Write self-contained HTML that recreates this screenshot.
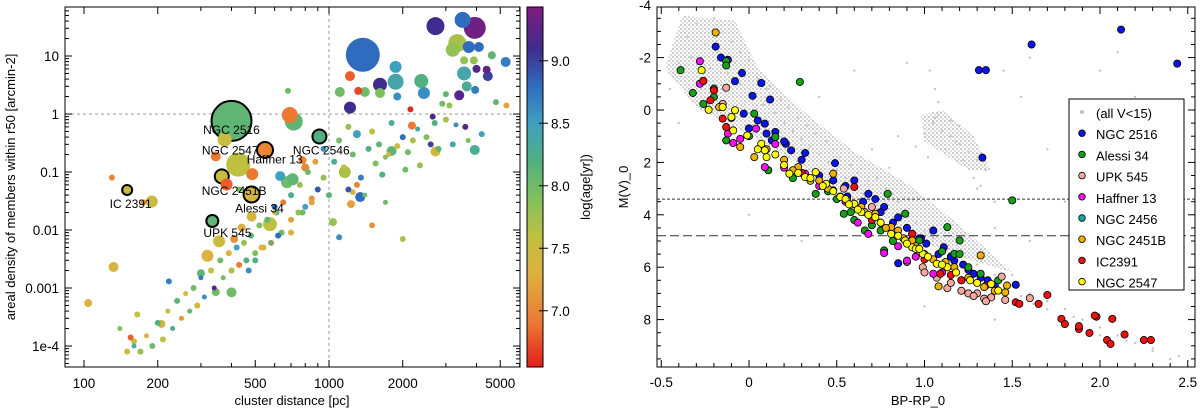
<!DOCTYPE html>
<html><head><meta charset="utf-8">
<style>
html,body{margin:0;padding:0;background:#fff;}
svg{display:block;font-family:"Liberation Sans",sans-serif;}
</style></head>
<body>
<svg id="fig" width="1200" height="410" viewBox="0 0 1200 410" xmlns="http://www.w3.org/2000/svg">
<defs>
<pattern id="stip" width="4" height="4" patternUnits="userSpaceOnUse"><circle cx="1" cy="1" r="1" fill="#bdbdbd"/><circle cx="3" cy="3" r="0.9" fill="#c8c8c8"/></pattern>
</defs>
<g id="left"></g>
<g id="cbar"></g>
<g id="right"></g>
</svg>
<script>
// ---------- LEFT CHART DATA ----------
const distances = [1374,2720,3510,3935,3340,3200,3720,4090,5260,4620,3560,3900,1870,3560,4000,4400,4450,1615,1870,2380,2440,1218,1316,1400,1107,1615,1900,1218,3400,3950,3650,692,718,400,375,548,914,365,150,483,334,426,345,486,382,189,632,674,710,780,800,319,356,574,483,440,410,132,104,207,400,345,300,222,2720,3935,1800,1160,1340,1230,1038,2150,2180,2650,
 1100,1200,1300,1450,1500,1600,1700,1800,1900,2000,2100,2200,2300,2500,2700,2900,3100,3300,3600,4200,4800,5300,1050,1150,1250,1350,1550,1650,1750,2050,2350,2600,2800,3000,3200,3700,950,880,820,760,700,650,600,560,520,480,450,420,390,360,330,300,280,260,240,220,200,180,160,150,140,130,900,850,800,750,700,640,580,540,500,470,430,1250,1400,1500,1700,2000,1100,1200,1300,950,1000,850,780,700,620,580,530,500,460,430,400,370,340,310,290,270,250,230,210,190,170,160,155,165,175,600,610,680,3000,3500,4300,2900,2200,2400,1950,1350,1450];
const densities = [10.5,32.7,42,30.6,16.7,12.8,14.3,14.3,7.9,10.3,8.4,8.4,6.5,5.0,6.0,5.8,4.5,3.2,3.6,3.7,2.3,4.5,2.5,2.4,2.4,2.3,2.0,1.29,2.1,2.6,3.0,0.96,0.74,0.76,0.36,0.24,0.41,0.084,0.049,0.041,0.0143,0.134,0.186,0.092,0.061,0.031,0.085,0.067,0.075,0.16,0.12,0.0036,0.0064,0.0126,0.017,0.011,0.007,0.0023,0.00055,0.00024,0.00084,0.00085,0.0018,0.0013,0.226,0.24,0.23,0.1,0.037,0.028,0.0137,1.2,0.63,0.9,
 0.35,0.6,0.45,0.25,0.5,0.3,0.18,0.7,0.28,0.4,0.22,0.35,0.55,0.4,0.7,1.5,1.4,0.65,0.6,0.45,1.6,1.4,0.15,0.12,0.2,0.08,0.14,0.09,0.2,0.11,0.13,0.3,0.25,0.8,0.3,0.35,0.25,0.15,0.1,0.06,0.04,0.03,0.02,0.015,0.012,0.008,0.006,0.005,0.004,0.003,0.002,0.0015,0.001,0.0008,0.0006,0.0004,0.00025,0.00015,0.0001,0.00008,0.0002,0.08,0.05,0.035,0.025,0.02,0.015,0.009,0.006,0.005,0.003,0.002,0.05,0.045,0.04,0.012,0.03,0.007,0.0075,0.05,0.06,0.08,0.04,0.03,0.02,0.009,0.008,0.006,0.005,0.004,0.003,0.0025,0.002,0.0015,0.001,0.0007,0.0005,0.0004,0.0003,0.0002,0.00013,0.0001,0.00008,0.00012,0.00014,0.00035,0.03,0.025,0.02,2.5,2.2,2.8,0.9,0.55,0.45,0.17,0.16,0.055];
const ages = [8.8,9.1,8.8,9.35,7.7,7.8,8.8,8.8,8.7,8.1,7.8,7.8,8.5,8.4,9.2,9.3,9.0,9.1,8.4,8.2,8.6,6.8,6.7,8.0,8.0,7.9,8.6,9.1,9.2,8.7,8.3,6.9,8.1,8.1,7.5,7.0,8.2,7.5,7.5,7.4,8.1,7.6,6.9,6.9,6.8,7.5,8.5,8.0,8.1,7.0,7.0,7.3,7.5,7.6,7.4,7.3,7.1,7.4,7.3,7.4,8.0,8.0,8.1,8.7,7.4,8.3,8.1,7.7,8.8,7.2,7.8,6.6,6.9,9.2,
 8.0,7.8,8.5,8.2,7.6,8.1,7.9,8.3,7.5,8.8,8.0,7.7,8.4,7.9,8.2,8.0,7.8,8.6,9.2,8.5,8.1,7.2,8.3,7.6,8.0,8.7,7.9,8.2,7.4,8.0,7.8,9.0,8.1,7.7,8.4,7.9,8.6,7.2,8.0,7.8,8.3,6.9,7.6,8.1,7.9,8.2,7.8,8.5,7.3,8.0,7.6,8.7,8.0,7.4,8.1,7.5,8.2,7.3,8.3,7.5,7.9,7.0,8.9,7.1,8.5,7.8,7.2,8.0,6.9,7.6,8.2,8.6,7.9,7.4,8.0,7.1,8.0,7.7,8.6,8.9,7.0,7.8,8.1,7.2,8.0,7.4,8.8,8.1,7.3,7.9,8.2,6.9,7.7,8.0,9.2,8.6,7.4,8.1,7.1,8.3,7.6,8.0,7.8,7.5,6.8,7.6,7.0,8.8,8.2,8.0,8.1,7.2,8.9,8.0,7.6,8.2,8.3];
const sizes = [17,9,8,11,9,7,6,5,5,4,4,4,6,7,4,4,5,7,8,7,6,5,4,5,5,5,4,6,5,4,5,8,9,20,7,8,7,7,5,8,6,12,5,6,6,6,5,6,6,4,4,6,6,7,5,4,4,5,4,4,5,4,4,3,5,5,5,6,5,4,4,3,4,3,
 3,3,4,3,3,3,2.5,3,3,3,3,3,2.5,3,3,3,3,2.5,3,3,3,3,3,3,3,3,3,3,2.5,3,3,3,3,3,3,2.5,3,3,3,3,3,3,2.5,3,3,3,3,3,3,3,3,2.5,3,2.5,3,2.5,3,2.5,2.5,3,2.5,3,3,3,3,3,3,3,3,3,3,3,3,3,2.5,3,2.5,3,3,3,3,3,3,3,3,3,3,2.5,3,3,3,3,3,2.5,2.5,2.5,3,2.5,2.5,2.5,3,3,3,3,3,3,3,3,3,3,3];
const namedIdx = [33,35,36,38,39,37,40];
const clusterLabels = ["NGC 2516","NGC 2547","Haffner 13","NGC 2546","NGC 2451B","IC 2391","Alessi 34","UPK 545"];
const labelDist = [400,395,600,930,410,155,520,385];
const labelDens = [0.45,0.2,0.14,0.2,0.04,0.024,0.02,0.0075];
const xTicksL = [100,200,500,1000,2000,5000];
const yTicksL = [10,1,0.1,0.01,0.001,0.0001];
const yTickLabelsL = ["10","1","0.1","0.01","0.001","1e-4"];
const cbTicks = [7.0,7.5,8.0,8.5,9.0];

// ---------- RIGHT CHART DATA ----------
const grayColor = [-0.4,-0.35,-0.3,-0.25,-0.2,-0.15,-0.1,-0.05,0,-0.28,-0.22,-0.12,-0.05,0.02,0.08,0.15,0.2,0.25,0.3,0.35,0.4,0.45,0.5,0.55,0.6,0.65,0.7,0.1,0.18,0.28,0.38,0.48,0.58,0.68,0.78,0.85,0.9,0.95,1.0,1.05,1.1,1.2,1.3,1.4,1.5,1.6,1.7,1.8,1.9,2.0,2.1,2.2,2.3,1.05,1.1,1.15,1.2,1.25,1.3,1.35,1.08,1.0,1.12,1.2,1.45,1.55,1.6,2.1,2.2,2.0,1.8,1.3,1.6,0.9,1.4,2.2,0.4,0.6,1.7,-0.4,-0.45,0.0,0.3,1.0,1.4,2.4,0.7,0.8,0.85,1.4,1.9,-0.33,-0.18,-0.08,0.05,0.12,0.22,0.33,0.44,0.52,0.62,0.73,0.82,1.02,1.18,1.28,1.15,1.22,1.32,0.95,1.06,1.03,1.06,1.08,1.5,1.55,1.62,1.7,1.85,2.0,2.15,2.3,2.45];
const grayMag = [-1.8,-2.8,-3.3,-2.5,-3.5,-3.0,-2.6,-2.2,-1.9,-1.2,-1.6,-1.4,-1.0,-0.6,-0.2,0.1,0.5,0.8,1.1,1.4,1.7,2.0,2.3,2.6,2.9,3.2,3.4,-0.8,-0.4,0.3,0.9,1.5,2.1,2.7,3.0,3.5,3.9,4.3,4.6,4.9,5.1,5.5,5.9,6.3,6.7,7.0,7.3,7.6,8.0,8.3,8.6,8.9,9.2,0.5,0.8,1.0,1.3,1.6,1.9,2.3,0.2,0.9,1.5,0.6,-1.5,-0.5,-2.0,-2.2,-0.5,-1.5,3.5,3.0,5.0,-1.8,3.5,4.0,-0.5,-1.5,1.5,0.5,-0.8,4.0,5.0,7.5,8.0,9.5,1.5,2.2,1.0,4.5,6.5,-2.0,-2.2,-1.8,-1.2,-0.9,-0.1,0.6,1.2,1.8,2.4,2.6,3.2,1.8,1.2,2.6,0.4,1.9,2.9,1.4,0.3,-1.5,-0.8,-0.3,6.3,7.1,7.4,7.6,7.9,8.6,8.8,9.1,9.4];
const ngc2516Color = [2.12,1.61,2.44,1.31,1.35,1.33,1.52,-0.19,-0.16,-0.12,-0.04,0.07,-0.08,0.02,0.12,-0.03,0.05,0.09,0.15,0.21,0.24,0.32,0.49,0.6,0.68,0.77,0.85,0.93,1.01,1.11,1.17,1.28,1.36,0.85,0.13,0.48,1.05,0.0,0.1,0.56,0.72,0.98,1.22,0.3,0.4,0.55,0.65,0.75,0.82,0.9,0.97,1.08,1.15,1.25,1.32,1.4,0.2,-0.1];
const ngc2516Mag = [-3.07,-2.5,-1.77,-1.52,-1.52,1.82,6.67,-2.42,-2.0,-1.92,-1.41,-1.03,-1.1,-0.54,-0.4,0.14,0.4,0.52,0.84,1.29,1.54,1.64,2.03,2.69,3.2,3.7,4.1,4.73,5.1,5.24,5.75,6.25,6.5,5.85,1.16,2.69,4.6,0.7,0.9,3.3,3.4,4.9,5.9,1.9,2.5,2.9,3.5,3.9,4.3,4.5,4.9,5.5,5.6,6.1,6.4,6.7,1.2,0.3];
const alessiColor = [-0.39,-0.32,-0.26,-0.2,-0.13,0.29,-0.13,0.03,0.15,0.38,0.54,0.66,0.79,0.77,1.13,1.2,1.5,1.17,1.32,1.42,0.97,0.11,0.23,0.6,0.89,-0.2,-0.13,0.0,0.25,0.45,0.5,0.58,0.7,0.75,0.82,0.92,1.1,1.2,1.25];
const alessiMag = [-1.52,-0.65,-0.23,-0.82,-1.87,-1.07,1.16,0.14,1.03,3.2,3.96,4.6,3.2,5.36,4.47,4.98,3.45,5.49,6.25,6.5,4.98,2.3,2.43,4.2,3.96,-0.5,-1.7,1.0,2.6,3.1,3.4,3.9,4.4,4.6,5.0,5.0,5.4,5.5,6.0];
const upkColor = [-0.13,-0.15,1.07,1.13,1.21,1.3,1.38,1.44,1.46,1.6,0.99,0.54,0.7,1.21,1.25,1.34,0.9,1.0,1.15,1.28,1.35];
const upkMag = [-0.85,-0.23,6.4,6.8,6.9,7.0,7.15,6.36,7.25,7.18,6.0,3.0,3.7,6.5,7.0,7.2,5.8,6.2,6.6,7.1,7.3];
const haffnerColor = [-0.28,-0.28,-0.12,-0.09,0.04,0.09,0.68,0.77,0.9,1.05,1.13,0.48,0.32,-0.05,0.15,0.2,0.4,0.55,0.62,0.85,0.95,1.1];
const haffnerMag = [-1.86,-1.0,0.9,1.26,0.71,2.18,4.73,5.46,5.75,6.25,6.0,3.07,2.43,1.1,1.3,2.2,2.9,3.5,4.3,5.2,5.6,6.2];
const ngc2451bColor = [-0.19,-0.17,-0.05,0.03,0.28,0.4,0.56,0.64,0.81,0.93,1.08,1.32,1.46,1.47,1.17,1.34,0.48,0.72,0.1,0.2,0.6,0.88,1.0,0.25,0.35,0.45,0.52,0.66,0.78,0.85,0.95,1.05,1.12,1.25,1.4];
const ngc2451bMag = [-2.96,-0.11,1.41,1.8,2.18,2.69,3.45,3.7,4.47,4.98,6.73,5.55,6.96,6.7,6.0,6.76,2.43,3.96,1.5,1.9,3.6,4.9,5.5,2.3,2.7,3.0,3.3,3.9,4.5,4.6,5.2,5.7,5.8,6.4,6.9];
const ic2391Color = [-0.26,-0.2,-0.22,-0.15,-0.13,1.52,1.54,1.65,1.7,1.78,1.8,1.88,1.94,1.98,2.07,2.04,2.06,2.14,2.25,2.29,0.93,1.09,1.21,0.6,1.88,1.97,0.3,0.7,1.0,1.15,1.35];
const ic2391Mag = [-1.11,-0.75,-0.37,0.33,0.65,7.34,7.4,7.4,7.06,7.97,8.17,8.36,8.51,7.89,7.97,8.78,8.93,8.57,8.78,8.78,4.73,6.25,6.5,2.94,8.25,7.85,2.4,4.2,5.7,6.3,6.7];
const ngc2547Color = [-0.27,-0.23,-0.15,-0.08,-0.1,-0.09,-0.01,0.07,0.09,0.1,0.23,0.32,0.38,0.44,0.52,0.6,0.64,0.72,0.81,0.89,0.93,0.99,1.07,1.13,1.26,1.38,1.42,0.55,0.75,0.95,0.05,0.15,0.2,0.28,0.35,0.42,0.48,0.57,0.62,0.68,0.75,0.85,0.9,0.97,1.02,1.1,1.18,1.3];
const ngc2547Mag = [-1.52,-0.01,-0.11,0.01,0.27,0.78,0.97,1.29,1.54,1.8,2.43,2.56,2.37,2.82,3.32,3.58,3.9,4.09,4.73,4.98,5.24,5.49,5.87,6.0,6.5,6.64,6.89,3.4,4.3,5.3,1.5,1.7,2.1,2.4,2.6,2.9,3.1,3.6,3.8,4.0,4.3,4.8,5.1,5.3,5.6,5.9,6.2,6.6];
const xTicksR = [-0.5,0,0.5,1.0,1.5,2.0,2.5];
const xTickLabelsR = ["-0.5","0","0.5","1.0","1.5","2.0","2.5"];
const yTicksR = [-4,-2,0,2,4,6,8];
const yTickLabelsR = ["-4","-2","0","2","4","6","8"];
const hLines = [3.4,4.8];
const legendLabels = ["(all V<15)","NGC 2516","Alessi 34","UPK 545","Haffner 13","NGC 2456","NGC 2451B","IC2391","NGC 2547"];
const legendColors = ["#c0c0c0","#0a14e6","#18a018","#f5a8a0","#f010f0","#10a8a8","#f0b000","#f01010","#ffff00"];

const NS = "http://www.w3.org/2000/svg";
function mk(parent, tag, attrs, text){
  const e = document.createElementNS(NS, tag);
  for (const k in attrs) e.setAttribute(k, attrs[k]);
  if (text !== undefined) e.textContent = text;
  parent.appendChild(e);
  return e;
}
// ---------- LEFT ----------
const L = document.getElementById('left');
const LX0 = 65, LX1 = 520, LY0 = 7, LY1 = 367;
function lx(d){ return 84 + (Math.log10(d) - 2) * 245; }
function ly(r){ return 114 - Math.log10(r) * 58; }
const cmStops = [[6.55,[226,30,30]],[6.9,[236,120,50]],[7.3,[222,176,64]],[7.6,[190,192,64]],[7.9,[128,192,92]],[8.2,[80,176,128]],[8.5,[64,160,192]],[8.8,[48,108,190]],[9.1,[64,44,140]],[9.43,[128,28,128]]];
function cmap(a){
  if (a <= cmStops[0][0]) return 'rgb(' + cmStops[0][1].join(',') + ')';
  for (let i = 1; i < cmStops.length; i++){
    if (a <= cmStops[i][0]){
      const t = (a - cmStops[i-1][0]) / (cmStops[i][0] - cmStops[i-1][0]);
      const c = cmStops[i-1][1].map((v, j) => Math.round(v + t * (cmStops[i][1][j] - v)));
      return 'rgb(' + c.join(',') + ')';
    }
  }
  return 'rgb(' + cmStops[cmStops.length-1][1].join(',') + ')';
}
mk(L,'rect',{x:LX0,y:LY0,width:LX1-LX0,height:LY1-LY0,fill:'#fff'});
const dl1 = mk(L,'line',{x1:lx(1000),x2:lx(1000),y1:LY0,y2:LY1,stroke:'#999','stroke-dasharray':'3,3','stroke-width':1});


const dl2 = mk(L,'line',{x1:LX0,x2:LX1,y1:ly(1),y2:ly(1),stroke:'#999','stroke-dasharray':'3,3','stroke-width':1});


const order = distances.map((d,i)=>i).sort((a,b)=>sizes[b]-sizes[a]);
order.forEach(i => {
  const named = namedIdx.indexOf(i) >= 0;
  const c = mk(L,'circle',{cx:lx(distances[i]),cy:ly(densities[i]),r:sizes[i],fill:cmap(ages[i]),stroke:named?'#000':'none','stroke-width':named?2:0});
  
  
});
clusterLabels.forEach((t,i) => {
  const e = mk(L,'text',{x:lx(labelDist[i]),y:ly(labelDens[i]),'font-size':12,'text-anchor':'middle',fill:'#000'},t);
  
  
});
mk(L,'rect',{x:LX0,y:LY0,width:LX1-LX0,height:LY1-LY0,fill:'none',stroke:'#000','stroke-width':1});
for (let dec = 100; dec <= 1000; dec *= 10){
  for (let m = 1; m < 10; m++){
    const v = dec*m; const x = lx(v);
    if (x < LX0 || x > LX1) continue;
    const major = xTicksL.indexOf(v) >= 0;
    const len = major ? 7 : 4;
    mk(L,'line',{x1:x,x2:x,y1:LY1,y2:LY1-len,stroke:'#000'});
    mk(L,'line',{x1:x,x2:x,y1:LY0,y2:LY0+len,stroke:'#000'});
  }
}
for (let e = -5; e <= 1; e++){
  for (let m = 1; m < 10; m++){
    const v = Math.pow(10,e)*m; const y = ly(v);
    if (y < LY0 || y > LY1) continue;
    const len = m === 1 ? 7 : 4;
    mk(L,'line',{x1:LX0,x2:LX0+len,y1:y,y2:y,stroke:'#000'});
    mk(L,'line',{x1:LX1,x2:LX1-len,y1:y,y2:y,stroke:'#000'});
  }
}
xTicksL.forEach(v => {
  const e = mk(L,'text',{x:lx(v),y:388,'font-size':13.5,'text-anchor':'middle'},String(v));
  
  
});
yTicksL.forEach((v,i) => {
  const e = mk(L,'text',{x:59,y:ly(v)+5,'font-size':13.5,'text-anchor':'end'},yTickLabelsL[i]);
  
  
});
const xt = mk(L,'text',{x:292,y:405,'font-size':13,'text-anchor':'middle'},'cluster distance [pc]');


const yt = mk(L,'text',{x:0,y:0,'font-size':13,'text-anchor':'middle',transform:'translate(15,187) rotate(-90)'},'areal density of members within r50 [arcmin-2]');



// ---------- COLORBAR ----------
const C = document.getElementById('cbar');
const CX = 527, CW = 16, CY0 = 7, CY1 = 367, AMIN = 6.55, AMAX = 9.43;
function cy(a){ return CY1 - (a - AMIN) / (AMAX - AMIN) * (CY1 - CY0); }
for (let y = CY0; y < CY1; y += 2){
  const a = AMIN + (CY1 - y - 1) / (CY1 - CY0) * (AMAX - AMIN);
  mk(C,'rect',{x:CX,y:y,width:CW,height:2.2,fill:cmap(a)});
}
mk(C,'rect',{x:CX,y:CY0,width:CW,height:CY1-CY0,fill:'none',stroke:'#000'});
cbTicks.forEach(v => {
  mk(C,'line',{x1:CX+CW,x2:CX+CW+5,y1:cy(v),y2:cy(v),stroke:'#000'});
  mk(C,'line',{x1:CX+CW-4,x2:CX+CW,y1:cy(v),y2:cy(v),stroke:'#000'});
  const e = mk(C,'text',{x:CX+CW+8,y:cy(v)+5,'font-size':13.5},v.toFixed(1));
  
  
});
const ct = mk(C,'text',{x:0,y:0,'font-size':13,'text-anchor':'middle',transform:'translate(590,187) rotate(-90)'},'log(age[yr])');



// ---------- RIGHT ----------
const R = document.getElementById('right');
const RX0 = 657, RX1 = 1195, RY0 = 7, RY1 = 367;
function rx(c){ return 749 + c * 175.5; }
function ry(m){ return 110 + m * 26.2; }
mk(R,'rect',{x:RX0,y:RY0,width:RX1-RX0,height:RY1-RY0,fill:'#fff'});
function poly(pts){ return pts.map((p,i)=>(i?'L':'M')+rx(p[0]).toFixed(1)+','+ry(p[1]).toFixed(1)).join(' ')+'Z'; }
const band = mk(R,'path',{d:poly([[-0.38,-3.6],[-0.08,-3.4],[0.05,-1.6],[0.3,0.0],[0.6,1.6],[0.9,2.8],[1.2,4.4],[1.5,6.2],[1.1,5.4],[0.6,3.4],[0.1,1.3],[-0.3,-0.1],[-0.48,-1.6]]),fill:'url(#stip)'});


const clump = mk(R,'path',{d:poly([[0.98,0.2],[1.1,0.0],[1.28,1.0],[1.38,2.3],[1.25,2.3],[1.0,1.2]]),fill:'url(#stip)'});


grayColor.forEach((c,i) => {
  const p = mk(R,'circle',{cx:rx(c),cy:ry(grayMag[i]),r:1.2,fill:'#c4c4c4'});
  
  
});
hLines.forEach((m,i) => {
  const l = mk(R,'line',{x1:RX0,x2:RX1,y1:ry(m),y2:ry(m),stroke:'#333','stroke-dasharray':i?'9,4':'3,2'});
  
  
});
const series = [[ngc2516Color,ngc2516Mag,1,'ngc2516-star'],[alessiColor,alessiMag,2,'alessi34-star'],[upkColor,upkMag,3,'upk545-star'],[haffnerColor,haffnerMag,4,'haffner13-star'],[ic2391Color,ic2391Mag,7,'ic2391-star'],[ngc2451bColor,ngc2451bMag,6,'ngc2451b-star'],[ngc2547Color,ngc2547Mag,8,'ngc2547-star']];
series.forEach(s => {
  s[0].forEach((c,i) => {
    const p = mk(R,'circle',{cx:rx(c),cy:ry(s[1][i]),r:3.6,fill:legendColors[s[2]],stroke:'#000','stroke-width':0.8});
    
    
  });
});
mk(R,'rect',{x:RX0,y:RY0,width:RX1-RX0,height:RY1-RY0,fill:'none',stroke:'#000'});
for (let k = -5; k <= 26; k++){
  const v = k/10; const x = rx(v); if (x < RX0 || x > RX1) continue;
  const len = (k % 5 === 0) ? 7 : 4;
  mk(R,'line',{x1:x,x2:x,y1:RY1,y2:RY1-len,stroke:'#000'});
  mk(R,'line',{x1:x,x2:x,y1:RY0,y2:RY0+len,stroke:'#000'});
}
for (let m = -4; m <= 9.5; m += 0.5){
  const y = ry(m); if (y < RY0 || y > RY1) continue;
  const len = (m % 2 === 0) ? 7 : 4;
  mk(R,'line',{x1:RX0,x2:RX0+len,y1:y,y2:y,stroke:'#000'});
  mk(R,'line',{x1:RX1,x2:RX1-len,y1:y,y2:y,stroke:'#000'});
}
xTicksR.forEach((v,i) => {
  const e = mk(R,'text',{x:rx(v),y:387,'font-size':13.5,'text-anchor':'middle'},xTickLabelsR[i]);
  
  
});
yTicksR.forEach((v,i) => {
  const e = mk(R,'text',{x:651,y:ry(v)+5,'font-size':13.5,'text-anchor':'end'},yTickLabelsR[i]);
  
  
});
const rxt = mk(R,'text',{x:918,y:405,'font-size':13,'text-anchor':'middle'},'BP-RP_0');


const ryt = mk(R,'text',{x:0,y:0,'font-size':13,'text-anchor':'middle',transform:'translate(628,187) rotate(-90)'},'M(V)_0');


const lg = mk(R,'g',{});


mk(lg,'rect',{x:1069,y:99,width:115,height:191,fill:'#fff',stroke:'#000'});
legendLabels.forEach((t,i) => {
  const y = 115 + i*21.2;
  const g = mk(lg,'g',{});
  
  
  if (i === 0) mk(g,'circle',{cx:1082,cy:y-3,r:2,fill:legendColors[0]});
  else mk(g,'circle',{cx:1082,cy:y-3,r:3.3,fill:legendColors[i],stroke:'#000','stroke-width':0.8});
  mk(g,'text',{x:1096,y:y+3,'font-size':13},t);
});
</script>
</body></html>
